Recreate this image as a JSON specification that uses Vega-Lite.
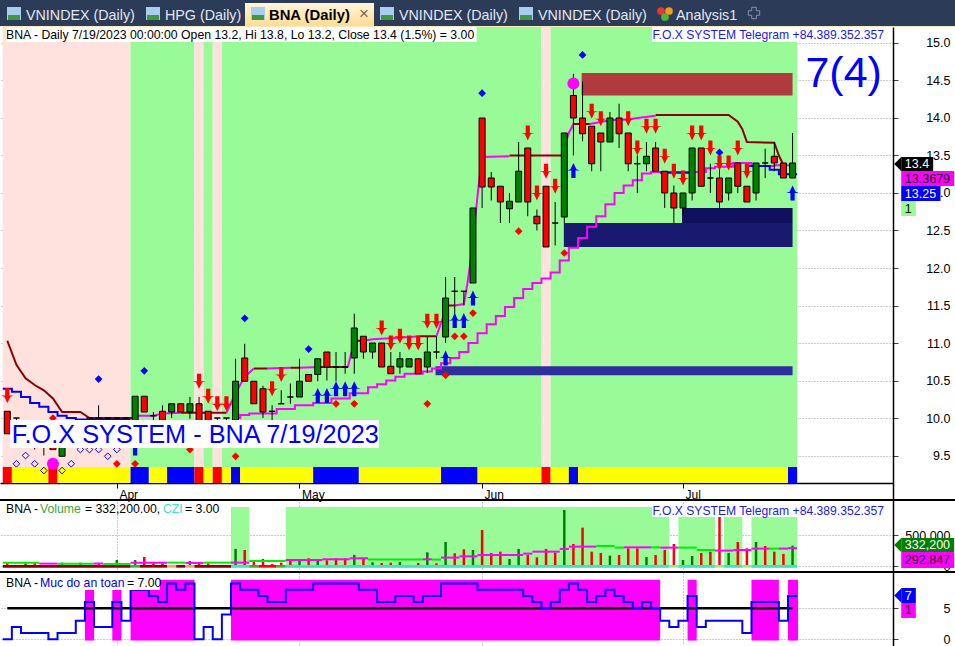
{"$schema":"https://vega.github.io/schema/vega-lite/v6.json","padding":{"left":-2,"top":0,"right":0,"bottom":0},"spacing":0,"bounds":"flush","background":"white","config":{"view":{"stroke":null},"text":{"font":"Liberation Sans"},"axis":{"labelFont":"Liberation Sans"}},"resolve":{"scale":{"color":"independent"}},
"datasets":{
"candles":[{"i":0,"o":10.09,"h":10.09,"l":9.79,"c":9.79,"dir":"down"},{"i":1,"o":10,"h":10,"l":9.6,"c":10,"dir":"flat"},{"i":2,"o":9.95,"h":9.95,"l":9.6,"c":9.95,"dir":"flat"},{"i":3,"o":9.95,"h":9.95,"l":9.58,"c":9.95,"dir":"flat"},{"i":4,"o":9.9,"h":9.95,"l":9.5,"c":9.9,"dir":"flat"},{"i":5,"o":9.9,"h":9.95,"l":9.58,"c":9.58,"dir":"down"},{"i":6,"o":9.49,"h":9.85,"l":9.49,"c":9.8,"dir":"up"},{"i":7,"o":9.9,"h":9.9,"l":9.6,"c":9.9,"dir":"flat"},{"i":8,"o":9.9,"h":9.9,"l":9.6,"c":9.9,"dir":"flat"},{"i":9,"o":10,"h":10,"l":9.7,"c":10,"dir":"flat"},{"i":10,"o":10,"h":10.17,"l":9.7,"c":10,"dir":"flat"},{"i":11,"o":10,"h":10,"l":9.8,"c":10,"dir":"flat"},{"i":12,"o":10,"h":10,"l":9.7,"c":10,"dir":"flat"},{"i":13,"o":10,"h":10,"l":9.9,"c":10,"dir":"flat"},{"i":14,"o":9.93,"h":10.29,"l":9.9,"c":10.29,"dir":"up"},{"i":15,"o":10.29,"h":10.29,"l":10.08,"c":10.08,"dir":"down"},{"i":16,"o":10.03,"h":10.08,"l":9.95,"c":10.03,"dir":"flat"},{"i":17,"o":10.09,"h":10.17,"l":9.95,"c":9.97,"dir":"down"},{"i":18,"o":10.08,"h":10.19,"l":10,"c":10.19,"dir":"up"},{"i":19,"o":10.19,"h":10.19,"l":10.08,"c":10.08,"dir":"down"},{"i":20,"o":10.08,"h":10.28,"l":9.99,"c":10.19,"dir":"up"},{"i":21,"o":10.19,"h":10.28,"l":9.9,"c":9.9,"dir":"down"},{"i":22,"o":10.09,"h":10.09,"l":9.9,"c":9.9,"dir":"down"},{"i":23,"o":10,"h":10,"l":9.9,"c":10,"dir":"flat"},{"i":24,"o":10,"h":10,"l":9.9,"c":10,"dir":"flat"},{"i":25,"o":9.97,"h":10.79,"l":9.97,"c":10.49,"dir":"up"},{"i":26,"o":10.8,"h":10.99,"l":10.49,"c":10.49,"dir":"down"},{"i":27,"o":10.49,"h":10.49,"l":10.19,"c":10.19,"dir":"down"},{"i":28,"o":10.39,"h":10.43,"l":10,"c":10.08,"dir":"down"},{"i":29,"o":10.09,"h":10.17,"l":9.97,"c":10.09,"dir":"flat"},{"i":30,"o":10.19,"h":10.37,"l":10.19,"c":10.19,"dir":"flat"},{"i":31,"o":10.28,"h":10.46,"l":10.19,"c":10.28,"dir":"flat"},{"i":32,"o":10.28,"h":10.79,"l":10.28,"c":10.49,"dir":"up"},{"i":33,"o":10.58,"h":10.58,"l":10.49,"c":10.49,"dir":"down"},{"i":34,"o":10.58,"h":10.79,"l":10.49,"c":10.79,"dir":"up"},{"i":35,"o":10.88,"h":10.88,"l":10.5,"c":10.68,"dir":"down"},{"i":36,"o":10.68,"h":10.88,"l":10.49,"c":10.68,"dir":"flat"},{"i":37,"o":10.68,"h":10.88,"l":10.59,"c":10.68,"dir":"flat"},{"i":38,"o":10.8,"h":11.39,"l":10.59,"c":11.2,"dir":"up"},{"i":39,"o":11.09,"h":11.09,"l":10.79,"c":10.88,"dir":"down"},{"i":40,"o":10.88,"h":11,"l":10.79,"c":11,"dir":"up"},{"i":41,"o":11,"h":11,"l":10.68,"c":10.68,"dir":"down"},{"i":42,"o":10.69,"h":10.88,"l":10.59,"c":10.59,"dir":"down"},{"i":43,"o":10.68,"h":10.88,"l":10.59,"c":10.79,"dir":"up"},{"i":44,"o":10.68,"h":10.79,"l":10.68,"c":10.79,"dir":"up"},{"i":45,"o":10.79,"h":10.79,"l":10.59,"c":10.59,"dir":"down"},{"i":46,"o":10.68,"h":11.08,"l":10.6,"c":10.88,"dir":"up"},{"i":47,"o":10.88,"h":11.09,"l":10.79,"c":10.88,"dir":"flat"},{"i":48,"o":11.08,"h":11.88,"l":11,"c":11.6,"dir":"up"},{"i":49,"o":11.69,"h":11.88,"l":11.2,"c":11.69,"dir":"flat"},{"i":50,"o":11.69,"h":11.69,"l":11.5,"c":11.69,"dir":"flat"},{"i":51,"o":11.8,"h":12.8,"l":11.8,"c":12.8,"dir":"up"},{"i":52,"o":14,"h":14,"l":12.8,"c":13.08,"dir":"down"},{"i":53,"o":13.2,"h":13.28,"l":12.9,"c":13.08,"dir":"down"},{"i":54,"o":13.09,"h":13.09,"l":12.6,"c":12.88,"dir":"down"},{"i":55,"o":12.79,"h":13,"l":12.6,"c":12.89,"dir":"up"},{"i":56,"o":12.88,"h":13.68,"l":12.88,"c":13.29,"dir":"up"},{"i":57,"o":13.6,"h":13.6,"l":12.69,"c":12.88,"dir":"down"},{"i":58,"o":12.69,"h":12.78,"l":12.5,"c":12.59,"dir":"down"},{"i":59,"o":13.09,"h":13.09,"l":12.28,"c":12.28,"dir":"down"},{"i":60,"o":12.6,"h":12.88,"l":12.3,"c":12.6,"dir":"flat"},{"i":61,"o":12.68,"h":13.8,"l":12.6,"c":13.8,"dir":"up"},{"i":62,"o":14.3,"h":14.59,"l":13.5,"c":14,"dir":"down"},{"i":63,"o":14,"h":14.49,"l":13.69,"c":13.79,"dir":"down"},{"i":64,"o":13.89,"h":13.89,"l":13.29,"c":13.39,"dir":"down"},{"i":65,"o":13.8,"h":13.8,"l":13.29,"c":13.68,"dir":"down"},{"i":66,"o":13.68,"h":14.08,"l":13.68,"c":14,"dir":"up"},{"i":67,"o":14,"h":14.19,"l":13.6,"c":13.79,"dir":"down"},{"i":68,"o":13.8,"h":13.8,"l":13.29,"c":13.39,"dir":"down"},{"i":69,"o":13.39,"h":13.5,"l":13,"c":13.39,"dir":"flat"},{"i":70,"o":13.39,"h":13.68,"l":13.29,"c":13.49,"dir":"up"},{"i":71,"o":13.6,"h":13.68,"l":13.29,"c":13.29,"dir":"down"},{"i":72,"o":13.29,"h":13.29,"l":12.8,"c":13,"dir":"down"},{"i":73,"o":13,"h":13.1,"l":12.6,"c":12.8,"dir":"down"},{"i":74,"o":12.8,"h":13,"l":12.7,"c":13,"dir":"up"},{"i":75,"o":13,"h":13.6,"l":12.9,"c":13.6,"dir":"up"},{"i":76,"o":13.6,"h":13.6,"l":13.09,"c":13.09,"dir":"down"},{"i":77,"o":13.2,"h":13.39,"l":13,"c":13.2,"dir":"flat"},{"i":78,"o":13.2,"h":13.39,"l":12.8,"c":12.88,"dir":"down"},{"i":79,"o":13,"h":13.2,"l":12.9,"c":13.2,"dir":"up"},{"i":80,"o":13.4,"h":13.4,"l":13,"c":13.09,"dir":"down"},{"i":81,"o":13.09,"h":13.09,"l":12.88,"c":12.88,"dir":"down"},{"i":82,"o":13,"h":13.4,"l":12.9,"c":13.4,"dir":"up"},{"i":83,"o":13.4,"h":13.59,"l":13.2,"c":13.4,"dir":"flat"},{"i":84,"o":13.49,"h":13.68,"l":13.29,"c":13.4,"dir":"down"},{"i":85,"o":13.4,"h":13.4,"l":13.2,"c":13.2,"dir":"down"},{"i":86,"o":13.2,"h":13.8,"l":13.2,"c":13.4,"dir":"up"}],
"bands":[{"i1":-0.5,"i2":13.5,"kind":"risk"},{"i1":13.5,"i2":20.5,"kind":"safe"},{"i1":20.5,"i2":21.5,"kind":"risk"},{"i1":21.5,"i2":22.5,"kind":"safe"},{"i1":22.5,"i2":23.5,"kind":"risk"},{"i1":23.5,"i2":58.5,"kind":"safe"},{"i1":58.5,"i2":59.5,"kind":"risk"},{"i1":59.5,"i2":86.5,"kind":"safe"}],
"status":[{"i1":-0.5,"i2":0.5,"kind":"sell"},{"i1":0.5,"i2":4.5,"kind":"hold"},{"i1":4.5,"i2":5.5,"kind":"sell"},{"i1":5.5,"i2":13.5,"kind":"hold"},{"i1":13.5,"i2":15.5,"kind":"buy"},{"i1":15.5,"i2":17.5,"kind":"hold"},{"i1":17.5,"i2":20.5,"kind":"buy"},{"i1":20.5,"i2":21.5,"kind":"sell"},{"i1":21.5,"i2":22.5,"kind":"hold"},{"i1":22.5,"i2":23.5,"kind":"sell"},{"i1":23.5,"i2":24.5,"kind":"hold"},{"i1":24.5,"i2":25.5,"kind":"buy"},{"i1":25.5,"i2":33.5,"kind":"hold"},{"i1":33.5,"i2":38.5,"kind":"buy"},{"i1":38.5,"i2":47.5,"kind":"hold"},{"i1":47.5,"i2":51.5,"kind":"buy"},{"i1":51.5,"i2":58.5,"kind":"hold"},{"i1":58.5,"i2":59.5,"kind":"sell"},{"i1":59.5,"i2":61.5,"kind":"hold"},{"i1":61.5,"i2":62.5,"kind":"buy"},{"i1":62.5,"i2":85.5,"kind":"hold"},{"i1":85.5,"i2":86.5,"kind":"buy"}],
"zones":[{"i1":62.9,"i2":86,"p1":14.6,"p2":14.3,"kind":"supply"},{"i1":60.95,"i2":86,"p1":12.6,"p2":12.28,"kind":"demand"},{"i1":73.9,"i2":86,"p1":12.8,"p2":12.6,"kind":"demand2"},{"i1":46.9,"i2":86,"p1":10.69,"p2":10.57,"kind":"demand3"}],
"upperBrown":[{"s":1,"i":0,"p":11.03},{"s":1,"i":1,"p":10.71},{"s":1,"i":2,"p":10.53},{"s":1,"i":3,"p":10.44},{"s":1,"i":4,"p":10.37},{"s":1,"i":5,"p":10.26},{"s":1,"i":6,"p":10.08},{"s":1,"i":8,"p":10.08},{"s":1,"i":9,"p":10},{"s":1,"i":14,"p":10},{"s":2,"i":19,"p":10.07},{"s":2,"i":24,"p":10.07},{"s":3,"i":27,"p":10.66},{"s":3,"i":28.5,"p":10.66},{"s":4,"i":31,"p":10.67},{"s":4,"i":32,"p":10.67},{"s":5,"i":34.3,"p":10.68},{"s":5,"i":37.3,"p":10.68},{"s":6,"i":38,"p":11.03},{"s":6,"i":39,"p":11.03},{"s":7,"i":45.2,"p":11.09},{"s":7,"i":47,"p":11.09},{"s":8,"i":48.3,"p":11.5},{"s":8,"i":49,"p":11.5},{"s":9,"i":55,"p":13.5},{"s":9,"i":60.7,"p":13.5},{"s":10,"i":62,"p":13.92},{"s":10,"i":63.8,"p":13.92},{"s":11,"i":71,"p":14.04},{"s":11,"i":79,"p":14.04},{"s":11,"i":80,"p":13.95},{"s":11,"i":80.5,"p":13.85},{"s":11,"i":81,"p":13.68},{"s":11,"i":84,"p":13.67},{"s":11,"i":84.5,"p":13.5},{"s":11,"i":84.9,"p":13.4}],
"upperMagenta":[{"s":1,"i":14,"p":10.03},{"s":1,"i":16,"p":10.03},{"s":1,"i":17,"p":10.06},{"s":1,"i":19,"p":10.07},{"s":2,"i":24,"p":10.07},{"s":2,"i":25,"p":10.33},{"s":2,"i":26,"p":10.55},{"s":2,"i":27,"p":10.66},{"s":3,"i":28.5,"p":10.66},{"s":3,"i":31,"p":10.67},{"s":4,"i":32,"p":10.67},{"s":4,"i":34.3,"p":10.68},{"s":5,"i":37.3,"p":10.68},{"s":5,"i":38,"p":11.03},{"s":6,"i":39,"p":11.03},{"s":6,"i":40,"p":11.05},{"s":6,"i":43,"p":11.07},{"s":6,"i":45.2,"p":11.09},{"s":7,"i":47,"p":11.09},{"s":7,"i":47.6,"p":11.3},{"s":7,"i":48.3,"p":11.5},{"s":8,"i":49,"p":11.5},{"s":8,"i":50,"p":11.52},{"s":8,"i":50.4,"p":11.8},{"s":8,"i":50.7,"p":12.06},{"s":8,"i":51.3,"p":12.73},{"s":8,"i":51.6,"p":13.08},{"s":8,"i":52,"p":13.48},{"s":8,"i":55,"p":13.49},{"s":9,"i":60.7,"p":13.5},{"s":9,"i":61.5,"p":13.8},{"s":9,"i":62,"p":13.92},{"s":10,"i":63.8,"p":13.92},{"s":10,"i":66,"p":13.97},{"s":10,"i":68,"p":13.98},{"s":10,"i":69,"p":14},{"s":10,"i":71,"p":14.03}],
"lower":[{"i":25,"p":10},{"i":26,"p":10.04},{"i":27,"p":10.06},{"i":29,"p":10.06},{"i":30,"p":10.12},{"i":31,"p":10.12},{"i":32,"p":10.17},{"i":33,"p":10.17},{"i":34,"p":10.2},{"i":35,"p":10.2},{"i":36,"p":10.26},{"i":37,"p":10.26},{"i":38,"p":10.33},{"i":39,"p":10.33},{"i":40,"p":10.41},{"i":41,"p":10.45},{"i":42,"p":10.5},{"i":43,"p":10.55},{"i":44,"p":10.59},{"i":45,"p":10.59},{"i":46,"p":10.62},{"i":47,"p":10.66},{"i":48,"p":10.73},{"i":49,"p":10.8},{"i":50,"p":10.88},{"i":51,"p":11},{"i":52,"p":11.13},{"i":53,"p":11.25},{"i":54,"p":11.36},{"i":55,"p":11.48},{"i":56,"p":11.6},{"i":57,"p":11.72},{"i":58,"p":11.8},{"i":59,"p":11.86},{"i":60,"p":11.94},{"i":61,"p":12.1},{"i":62,"p":12.27},{"i":63,"p":12.4},{"i":64,"p":12.55},{"i":65,"p":12.69},{"i":66,"p":12.85},{"i":67,"p":13},{"i":68,"p":13.1},{"i":69,"p":13.17},{"i":70,"p":13.26},{"i":71,"p":13.28},{"i":76,"p":13.28},{"i":77,"p":13.33},{"i":78,"p":13.35},{"i":79,"p":13.35},{"i":80,"p":13.4},{"i":81,"p":13.4},{"i":82,"p":13.36},{"i":86,"p":13.37}],
"blueLine":[{"s":1,"i":-0.5,"p":10.39},{"s":1,"i":0,"p":10.39},{"s":1,"i":1,"p":10.35},{"s":1,"i":2,"p":10.28},{"s":1,"i":3,"p":10.2},{"s":1,"i":4,"p":10.15},{"s":1,"i":5,"p":10.08},{"s":1,"i":6,"p":10.03},{"s":1,"i":7,"p":10},{"s":1,"i":8,"p":9.98},{"s":1,"i":13.5,"p":9.98},{"s":2,"i":71.5,"p":13.27},{"s":2,"i":75,"p":13.27},{"s":3,"i":81,"p":13.36},{"s":3,"i":83,"p":13.36},{"s":3,"i":84,"p":13.31},{"s":3,"i":85,"p":13.25},{"s":3,"i":86.5,"p":13.25}],
"diamondsBlue":[{"i":10,"p":10.52},{"i":15,"p":10.63},{"i":26,"p":11.33},{"i":33,"p":10.92},{"i":52,"p":14.33},{"i":63,"p":14.84},{"i":78,"p":13.54}],
"diamondsRed":[{"i":5,"p":10},{"i":12,"p":9.39},{"i":14,"p":9.39},{"i":20,"p":9.58},{"i":25,"p":9.49},{"i":36,"p":10.19},{"i":38,"p":10.19},{"i":46,"p":10.19},{"i":48,"p":10.57},{"i":49,"p":11.09},{"i":50,"p":11.09},{"i":51,"p":11.4},{"i":61,"p":12.2},{"i":56,"p":12.49}],
"diamondsHollow":[{"i":1,"p":9.39},{"i":2,"p":9.5},{"i":3,"p":9.39},{"i":4,"p":9.3},{"i":6,"p":9.3},{"i":7,"p":9.39},{"i":8,"p":9.58},{"i":9,"p":9.58},{"i":10,"p":9.58},{"i":11,"p":9.49},{"i":12,"p":9.58}],
"dots":[{"i":5,"p":9.39},{"i":62,"p":14.46}],
"arrowsDown":[{"i":0,"p":10.3},{"i":21,"p":10.49},{"i":22,"p":10.29},{"i":23,"p":10.19},{"i":24,"p":10.19},{"i":29,"p":10.39},{"i":30,"p":10.58},{"i":41,"p":11.2},{"i":42,"p":11},{"i":43,"p":11.09},{"i":44,"p":11},{"i":45,"p":11},{"i":46,"p":11.29},{"i":47,"p":11.29},{"i":57,"p":13.8},{"i":58,"p":13},{"i":59,"p":13.29},{"i":60,"p":13.09},{"i":64,"p":14.09},{"i":65,"p":13.99},{"i":68,"p":13.99},{"i":69,"p":13.6},{"i":70,"p":13.89},{"i":71,"p":13.89},{"i":72,"p":13.49},{"i":73,"p":13.29},{"i":74,"p":13.2},{"i":75,"p":13.8},{"i":76,"p":13.8},{"i":77,"p":13.6},{"i":78,"p":13.4},{"i":79,"p":13.4},{"i":80,"p":13.6},{"i":81,"p":13.29}],
"arrowsUp":[{"i":14,"p":9.6},{"i":34,"p":10.3},{"i":35,"p":10.3},{"i":36,"p":10.39},{"i":37,"p":10.39},{"i":38,"p":10.39},{"i":48,"p":10.8},{"i":49,"p":11.3},{"i":50,"p":11.3},{"i":51,"p":11.6},{"i":62,"p":13.3},{"i":86,"p":13}],
"whiteBoxes":[{"i1":-0.14,"i2":51.4,"p1":15.213,"p2":15.013},{"i1":70.6,"i2":95.9,"p1":15.213,"p2":15.013},{"i1":0.3,"i2":40.7,"p1":9.973,"p2":9.6}],
"mainTags":[{"i1":97.9,"i2":101.4,"p1":13.48,"p2":13.293,"pm":13.387,"label":"13.4","kind":"close","tip":1},{"i1":97.9,"i2":103.7,"p1":13.293,"p2":13.093,"pm":13.193,"label":"13.3679","kind":"ma","tip":0},{"i1":97.9,"i2":102.2,"p1":13.093,"p2":12.893,"pm":12.993,"label":"13.25","kind":"stop","tip":0},{"i1":97.9,"i2":99.5,"p1":12.893,"p2":12.693,"pm":12.793,"label":"1","kind":"state","tip":0}],
"volume":[{"i":0,"v":48000,"dir":"down"},{"i":2,"v":48000,"dir":"up"},{"i":3,"v":59000,"dir":"down"},{"i":6,"v":59000,"dir":"up"},{"i":8,"v":59000,"dir":"up"},{"i":10,"v":54000,"dir":"down"},{"i":12,"v":102000,"dir":"up"},{"i":14,"v":102000,"dir":"up"},{"i":15,"v":150000,"dir":"down"},{"i":16,"v":48000,"dir":"down"},{"i":17,"v":48000,"dir":"down"},{"i":20,"v":86000,"dir":"up"},{"i":21,"v":65000,"dir":"down"},{"i":22,"v":48000,"dir":"down"},{"i":25,"v":280000,"dir":"up"},{"i":26,"v":263000,"dir":"down"},{"i":27,"v":91000,"dir":"down"},{"i":28,"v":118000,"dir":"down"},{"i":29,"v":38000,"dir":"down"},{"i":30,"v":59000,"dir":"down"},{"i":31,"v":86000,"dir":"down"},{"i":32,"v":118000,"dir":"up"},{"i":33,"v":129000,"dir":"down"},{"i":34,"v":97000,"dir":"up"},{"i":35,"v":97000,"dir":"down"},{"i":36,"v":129000,"dir":"down"},{"i":37,"v":129000,"dir":"down"},{"i":38,"v":183000,"dir":"up"},{"i":39,"v":129000,"dir":"down"},{"i":40,"v":65000,"dir":"up"},{"i":41,"v":54000,"dir":"down"},{"i":42,"v":59000,"dir":"down"},{"i":43,"v":70000,"dir":"up"},{"i":44,"v":22000,"dir":"up"},{"i":45,"v":54000,"dir":"down"},{"i":46,"v":225000,"dir":"up"},{"i":47,"v":48000,"dir":"down"},{"i":48,"v":392000,"dir":"up"},{"i":49,"v":210000,"dir":"down"},{"i":50,"v":274000,"dir":"down"},{"i":51,"v":263000,"dir":"up"},{"i":52,"v":586000,"dir":"down"},{"i":53,"v":215000,"dir":"down"},{"i":54,"v":236000,"dir":"down"},{"i":55,"v":118000,"dir":"up"},{"i":56,"v":280000,"dir":"up"},{"i":57,"v":183000,"dir":"down"},{"i":58,"v":145000,"dir":"down"},{"i":59,"v":280000,"dir":"down"},{"i":60,"v":220000,"dir":"down"},{"i":61,"v":908000,"dir":"up"},{"i":62,"v":360000,"dir":"down"},{"i":63,"v":624000,"dir":"down"},{"i":64,"v":236000,"dir":"down"},{"i":65,"v":215000,"dir":"down"},{"i":66,"v":172000,"dir":"up"},{"i":67,"v":183000,"dir":"down"},{"i":68,"v":290000,"dir":"down"},{"i":69,"v":290000,"dir":"down"},{"i":70,"v":150000,"dir":"up"},{"i":71,"v":183000,"dir":"down"},{"i":72,"v":263000,"dir":"down"},{"i":73,"v":360000,"dir":"down"},{"i":74,"v":102000,"dir":"up"},{"i":75,"v":167000,"dir":"up"},{"i":76,"v":215000,"dir":"down"},{"i":77,"v":236000,"dir":"down"},{"i":78,"v":900000,"dir":"down"},{"i":79,"v":215000,"dir":"up"},{"i":80,"v":392000,"dir":"down"},{"i":81,"v":290000,"dir":"down"},{"i":82,"v":392000,"dir":"up"},{"i":83,"v":328000,"dir":"down"},{"i":84,"v":236000,"dir":"down"},{"i":85,"v":200000,"dir":"down"},{"i":86,"v":332200,"dir":"up"}],
"volMA":[{"i1":-0.5,"i2":3.5,"ma":59000,"tone":"g"},{"i1":3.5,"i2":5.5,"ma":43000,"tone":"m"},{"i1":5.5,"i2":9.5,"ma":41000,"tone":"g"},{"i1":9.5,"i2":10.5,"ma":45000,"tone":"m"},{"i1":10.5,"i2":13.5,"ma":38000,"tone":"g"},{"i1":13.5,"i2":17.5,"ma":59000,"tone":"m"},{"i1":17.5,"i2":19.5,"ma":59000,"tone":"g"},{"i1":19.5,"i2":21.5,"ma":54000,"tone":"m"},{"i1":21.5,"i2":24.5,"ma":59000,"tone":"g"},{"i1":24.5,"i2":26.5,"ma":59000,"tone":"m"},{"i1":26.5,"i2":30.5,"ma":86000,"tone":"g"},{"i1":30.5,"i2":34.5,"ma":102000,"tone":"m"},{"i1":34.5,"i2":37.5,"ma":113000,"tone":"m"},{"i1":37.5,"i2":39.5,"ma":129000,"tone":"m"},{"i1":39.5,"i2":45.5,"ma":108000,"tone":"g"},{"i1":45.5,"i2":46.5,"ma":113000,"tone":"m"},{"i1":46.5,"i2":47.5,"ma":108000,"tone":"g"},{"i1":47.5,"i2":49.5,"ma":140000,"tone":"m"},{"i1":49.5,"i2":51.5,"ma":161000,"tone":"m"},{"i1":51.5,"i2":56.5,"ma":183000,"tone":"m"},{"i1":56.5,"i2":57.5,"ma":204000,"tone":"m"},{"i1":57.5,"i2":60.5,"ma":236000,"tone":"m"},{"i1":60.5,"i2":61.5,"ma":280000,"tone":"m"},{"i1":61.5,"i2":64.5,"ma":317000,"tone":"m"},{"i1":64.5,"i2":66.5,"ma":328000,"tone":"g"},{"i1":66.5,"i2":67.5,"ma":301000,"tone":"g"},{"i1":67.5,"i2":70.5,"ma":306000,"tone":"m"},{"i1":70.5,"i2":71.5,"ma":306000,"tone":"g"},{"i1":71.5,"i2":73.5,"ma":301000,"tone":"m"},{"i1":73.5,"i2":75.5,"ma":301000,"tone":"g"},{"i1":75.5,"i2":77.5,"ma":263000,"tone":"g"},{"i1":77.5,"i2":79.5,"ma":253000,"tone":"m"},{"i1":79.5,"i2":81.5,"ma":263000,"tone":"m"},{"i1":81.5,"i2":83.5,"ma":285000,"tone":"m"},{"i1":83.5,"i2":84.5,"ma":285000,"tone":"g"},{"i1":84.5,"i2":85.5,"ma":285000,"tone":"m"},{"i1":85.5,"i2":86.5,"ma":293000,"tone":"m"}],
"volBands":[{"i1":24.5,"i2":26.5},{"i1":30.5,"i2":72.5},{"i1":73.5,"i2":77.5},{"i1":78.5,"i2":80.5},{"i1":81.5,"i2":86.5}],
"volStrip":[{"i1":-0.5,"i2":13.5,"kind":"a"},{"i1":13.5,"i2":14.5,"kind":"b"},{"i1":14.5,"i2":17.5,"kind":"a"},{"i1":17.5,"i2":18.5,"kind":"c"},{"i1":18.5,"i2":19.5,"kind":"a"},{"i1":19.5,"i2":20.5,"kind":"c"},{"i1":20.5,"i2":24.5,"kind":"a"},{"i1":24.5,"i2":26.5,"kind":"d"},{"i1":26.5,"i2":27.5,"kind":"b"},{"i1":27.5,"i2":29.5,"kind":"e"},{"i1":29.5,"i2":30.5,"kind":"b"},{"i1":30.5,"i2":72.5,"kind":"d"},{"i1":72.5,"i2":73.5,"kind":"f"},{"i1":73.5,"i2":77.5,"kind":"d"},{"i1":77.5,"i2":78.5,"kind":"f"},{"i1":78.5,"i2":80.5,"kind":"d"},{"i1":80.5,"i2":81.5,"kind":"f"},{"i1":81.5,"i2":86.5,"kind":"d"}],
"volTags":[{"i1":97.9,"i2":103.7,"p1":456000,"p2":231000,"pm":344000,"label":"332,200","kind":"vol","tip":1},{"i1":97.9,"i2":103.7,"p1":231000,"p2":-27000,"pm":102000,"label":"292,847","kind":"ma","tip":0}],
"safety":[{"i":-0.5,"v":0},{"i":0,"v":0},{"i":1,"v":2},{"i":2,"v":1},{"i":3,"v":1},{"i":4,"v":1},{"i":5,"v":0},{"i":6,"v":1},{"i":7,"v":1},{"i":8,"v":3},{"i":9,"v":6},{"i":10,"v":2},{"i":11,"v":2},{"i":12,"v":6},{"i":13,"v":3},{"i":14,"v":8},{"i":15,"v":8},{"i":16,"v":7},{"i":17,"v":6},{"i":18,"v":9},{"i":19,"v":8},{"i":20,"v":9},{"i":21,"v":0},{"i":22,"v":2},{"i":23,"v":0},{"i":24,"v":4},{"i":25,"v":9},{"i":26,"v":8},{"i":27,"v":8},{"i":28,"v":7},{"i":29,"v":6},{"i":30,"v":6},{"i":31,"v":8},{"i":32,"v":8},{"i":33,"v":8},{"i":34,"v":9},{"i":35,"v":9},{"i":36,"v":9},{"i":37,"v":9},{"i":38,"v":9},{"i":39,"v":8},{"i":40,"v":8},{"i":41,"v":6},{"i":42,"v":6},{"i":43,"v":7},{"i":44,"v":7},{"i":45,"v":6},{"i":46,"v":7},{"i":47,"v":7},{"i":48,"v":9},{"i":49,"v":9},{"i":50,"v":9},{"i":51,"v":9},{"i":52,"v":8},{"i":53,"v":8},{"i":54,"v":8},{"i":55,"v":8},{"i":56,"v":8},{"i":57,"v":7},{"i":58,"v":6},{"i":59,"v":5},{"i":60,"v":6},{"i":61,"v":8},{"i":62,"v":9},{"i":63,"v":8},{"i":64,"v":6},{"i":65,"v":7},{"i":66,"v":8},{"i":67,"v":7},{"i":68,"v":6},{"i":69,"v":5},{"i":70,"v":6},{"i":71,"v":5},{"i":72,"v":3},{"i":73,"v":2},{"i":74,"v":3},{"i":75,"v":7},{"i":76,"v":2},{"i":77,"v":3},{"i":78,"v":3},{"i":79,"v":3},{"i":80,"v":3},{"i":81,"v":1},{"i":82,"v":6},{"i":83,"v":6},{"i":84,"v":6},{"i":85,"v":3},{"i":86,"v":7},{"i":86.5,"v":7}],
"safetyBands":[{"i1":8.5,"i2":9.5,"top":7.96},{"i1":11.5,"i2":12.5,"top":7.96},{"i1":13.5,"i2":20.5,"top":9.6},{"i1":24.5,"i2":71.5,"top":9.6},{"i1":74.5,"i2":75.5,"top":9.6},{"i1":81.5,"i2":84.5,"top":9.6},{"i1":85.5,"i2":86.6,"top":9.6}],
"safetyTags":[{"i1":97.9,"i2":99.5,"p1":8.27,"p2":5.85,"pm":7.06,"label":"7","kind":"now","tip":1},{"i1":97.9,"i2":99.5,"p1":5.85,"p2":3.44,"pm":4.65,"label":"1","kind":"ma","tip":0}],
"tabRects":[{"x1":0,"x2":957,"y1":26,"y2":27,"kind":"line"},{"x1":7,"x2":21,"y1":7,"y2":20,"kind":"icon"},{"x1":146,"x2":160,"y1":7,"y2":20,"kind":"icon"},{"x1":251,"x2":265,"y1":7,"y2":20,"kind":"icon"},{"x1":380,"x2":394,"y1":7,"y2":20,"kind":"icon"},{"x1":519,"x2":533,"y1":7,"y2":20,"kind":"icon"},{"x1":8,"x2":20,"y1":15,"y2":20,"kind":"iconGreen"},{"x1":147,"x2":159,"y1":15,"y2":20,"kind":"iconGreen"},{"x1":252,"x2":264,"y1":15,"y2":20,"kind":"iconGreen"},{"x1":381,"x2":393,"y1":15,"y2":20,"kind":"iconGreen"},{"x1":520,"x2":532,"y1":15,"y2":20,"kind":"iconGreen"}],
"tabLabels":[{"x":26,"t":"VNINDEX (Daily)"},{"x":165,"t":"HPG (Daily)"},{"x":399,"t":"VNINDEX (Daily)"},{"x":538,"t":"VNINDEX (Daily)"},{"x":676,"t":"Analysis1"}]
},
"vconcat":[
{"width":957,"height":27,"view":{"fill":"#2c3b58","stroke":null},"layer":[
{"data":{"values":[{"x1":245,"x2":374,"y1":3,"y2":26}]},"mark":{"type":"rect","color":{"gradient":"linear","x1":0,"y1":0,"x2":0,"y2":1,"stops":[{"offset":0,"color":"#fff6dc"},{"offset":1,"color":"#fddc92"}]}},"encoding":{"x":{"field":"x1","type":"quantitative","axis":null,"scale":{"domain":[0,957],"nice":false,"zero":false}},"x2":{"field":"x2"},"y":{"field":"y1","type":"quantitative","axis":null,"scale":{"domain":[27,0],"nice":false,"zero":false}},"y2":{"field":"y2"}}},
{"data":{"name":"tabRects"},"mark":"rect","encoding":{"x":{"field":"x1","type":"quantitative","axis":null},"x2":{"field":"x2"},"y":{"field":"y1","type":"quantitative","axis":null},"y2":{"field":"y2"},"color":{"field":"kind","type":"nominal","legend":null,"scale":{"domain":["line","icon","iconGreen"],"range":["#fde9b8","#a9cdee","#3f9a3f"]}}}},
{"data":{"name":"tabLabels"},"mark":{"type":"text","align":"left","baseline":"alphabetic","fontSize":14.3,"color":"#e3e8f0"},"encoding":{"x":{"field":"x","type":"quantitative","axis":null},"y":{"datum":19.5,"type":"quantitative","axis":null},"text":{"field":"t"}}},
{"data":{"values":[{"x":269,"t":"BNA (Daily)"}]},"mark":{"type":"text","align":"left","baseline":"alphabetic","fontSize":14.8,"fontWeight":"bold","color":"#000000"},"encoding":{"x":{"field":"x","type":"quantitative","axis":null},"y":{"datum":19.5,"type":"quantitative","axis":null},"text":{"field":"t"}}},
{"data":{"values":[{"x":364,"t":"×"}]},"mark":{"type":"text","align":"center","baseline":"alphabetic","fontSize":17,"color":"#7a6a50"},"encoding":{"x":{"field":"x","type":"quantitative","axis":null},"y":{"datum":19,"type":"quantitative","axis":null},"text":{"field":"t"}}},
{"data":{"values":[{"x":661,"y":11,"c":"r"},{"x":669,"y":11,"c":"o"},{"x":665,"y":17,"c":"g"}]},"mark":{"type":"point","filled":true,"opacity":1,"size":60,"shape":"circle"},"encoding":{"x":{"field":"x","type":"quantitative","axis":null},"y":{"field":"y","type":"quantitative","axis":null},"color":{"field":"c","type":"nominal","legend":null,"scale":{"domain":["r","o","g"],"range":["#e8343a","#f39a1c","#4db82f"]}}}},
{"data":{"values":[{"x":754,"y":13}]},"mark":{"type":"point","shape":"cross","filled":false,"size":130,"opacity":1,"color":"#8a93a5","strokeWidth":1},"encoding":{"x":{"field":"x","type":"quantitative","axis":null},"y":{"field":"y","type":"quantitative","axis":null}}}
],"resolve":{"scale":{"color":"independent"}}},
{"width":893,"height":473,"layer":[
{"data":{"name":"bands"},"mark":"rect","encoding":{"x":{"field":"i1","type":"quantitative","scale":{"domain":[-0.8,97],"padding":0,"nice":false,"zero":false},"axis":{"title":null,"orient":"bottom","offset":-17,"values":[12,32,52,74],"labelExpr":"datum.value==12?'Apr':datum.value==32?'May':datum.value==52?'Jun':'Jul'","labelAlign":"left","labelBaseline":"top","labelPadding":1,"labelOffset":2,"labelFontSize":12,"labelColor":"#000000","tickColor":"#000000","tickSize":5,"domainColor":"#000000","domainWidth":1.5,"grid":false,"labelFlush":false,"labelOverlap":false,"labelBound":false}},"x2":{"field":"i2"},"y":{"datum":15.213,"type":"quantitative","scale":{"domain":[8.907,15.213],"nice":false,"zero":false},"axis":{"title":null,"orient":"right","values":[9.5,10,10.5,11,11.5,12,12.5,13,13.5,14,14.5,15],"format":".1f","labelAlign":"right","labelPadding":52,"labelFontSize":12.5,"labelColor":"#000000","tickSize":5,"tickColor":"#444444","domainColor":"#000000","domainWidth":1.5,"grid":true,"gridColor":"#999999","gridDash":[1,2],"labelOverlap":false,"labelBound":false}},"y2":{"datum":9.133},"color":{"field":"kind","type":"nominal","legend":null,"scale":{"domain":["risk","safe"],"range":["#ffe1de","#98fb98"]}}}},
{"data":{"name":"status"},"mark":"rect","encoding":{"x":{"field":"i1","type":"quantitative","axis":null},"x2":{"field":"i2"},"y":{"datum":9.347,"type":"quantitative","axis":null},"y2":{"datum":9.133},"color":{"field":"kind","type":"nominal","legend":null,"scale":{"domain":["sell","hold","buy"],"range":["#ff0000","#ffff00","#0000ff"]}}}},
{"data":{"name":"zones"},"mark":"rect","encoding":{"x":{"field":"i1","type":"quantitative","axis":null},"x2":{"field":"i2"},"y":{"field":"p1","type":"quantitative","axis":null},"y2":{"field":"p2"},"color":{"field":"kind","type":"nominal","legend":null,"scale":{"domain":["supply","demand","demand2","demand3"],"range":["#b03a3e","#191970","#10105f","#2e2e9e"]}}}},
{"data":{"name":"upperBrown"},"mark":{"type":"line","color":"#8b0000","strokeWidth":2},"encoding":{"x":{"field":"i","type":"quantitative","axis":null},"y":{"field":"p","type":"quantitative","axis":null},"detail":{"field":"s"}}},
{"data":{"name":"upperMagenta"},"mark":{"type":"line","color":"#ff00ff","strokeWidth":2},"encoding":{"x":{"field":"i","type":"quantitative","axis":null},"y":{"field":"p","type":"quantitative","axis":null},"detail":{"field":"s"}}},
{"data":{"name":"lower"},"mark":{"type":"line","color":"#ff00ff","strokeWidth":2,"interpolate":"step"},"encoding":{"x":{"field":"i","type":"quantitative","axis":null},"y":{"field":"p","type":"quantitative","axis":null}}},
{"data":{"name":"blueLine"},"mark":{"type":"line","color":"#0000ff","strokeWidth":2,"interpolate":"step"},"encoding":{"x":{"field":"i","type":"quantitative","axis":null},"y":{"field":"p","type":"quantitative","axis":null},"detail":{"field":"s"}}},
{"data":{"name":"candles"},"mark":{"type":"rule","color":"#000000","strokeWidth":1},"encoding":{"x":{"field":"i","type":"quantitative","axis":null},"y":{"field":"l","type":"quantitative","axis":null},"y2":{"field":"h"}}},
{"data":{"name":"candles"},"mark":{"type":"bar","size":6,"stroke":"#000000","strokeWidth":1},"encoding":{"x":{"field":"i","type":"quantitative","axis":null},"y":{"field":"o","type":"quantitative","axis":null},"y2":{"field":"c"},"color":{"condition":{"test":"datum.dir=='up'","value":"#008000"},"value":"#ff0000"}}},
{"data":{"name":"diamondsBlue"},"mark":{"type":"point","shape":"diamond","filled":true,"opacity":1,"size":60,"color":"#0000ff"},"encoding":{"x":{"field":"i","type":"quantitative","axis":null},"y":{"field":"p","type":"quantitative","axis":null}}},
{"data":{"name":"diamondsRed"},"mark":{"type":"point","shape":"diamond","filled":true,"opacity":1,"size":60,"color":"#ff0000"},"encoding":{"x":{"field":"i","type":"quantitative","axis":null},"y":{"field":"p","type":"quantitative","axis":null}}},
{"data":{"name":"diamondsHollow"},"mark":{"type":"point","shape":"diamond","filled":false,"opacity":1,"size":45,"color":"#0000ff","strokeWidth":1},"encoding":{"x":{"field":"i","type":"quantitative","axis":null},"y":{"field":"p","type":"quantitative","axis":null}}},
{"data":{"name":"dots"},"mark":{"type":"point","shape":"circle","filled":true,"opacity":1,"size":144,"color":"#ff00ff"},"encoding":{"x":{"field":"i","type":"quantitative","axis":null},"y":{"field":"p","type":"quantitative","axis":null}}},
{"data":{"name":"arrowsDown"},"mark":{"type":"point","filled":true,"opacity":1,"size":225,"color":"#ff0000","shape":"M-0.28 -1 L0.28 -1 L0.28 0 L0.85 0 L0.4 0.15 L0 1 L-0.4 0.15 L-0.85 0 L-0.28 0 Z"},"encoding":{"x":{"field":"i","type":"quantitative","axis":null},"y":{"field":"p","type":"quantitative","axis":null}}},
{"data":{"name":"arrowsUp"},"mark":{"type":"point","filled":true,"opacity":1,"size":225,"color":"#0000ff","shape":"M-0.28 1 L0.28 1 L0.28 0 L0.85 0 L0.4 -0.15 L0 -1 L-0.4 -0.15 L-0.85 0 L-0.28 0 Z"},"encoding":{"x":{"field":"i","type":"quantitative","axis":null},"y":{"field":"p","type":"quantitative","axis":null}}},
{"data":{"name":"whiteBoxes"},"mark":{"type":"rect","color":"#ffffff"},"encoding":{"x":{"field":"i1","type":"quantitative","axis":null},"x2":{"field":"i2"},"y":{"field":"p1","type":"quantitative","axis":null},"y2":{"field":"p2"}}},
{"data":{"values":[{"i":-0.14,"p":15.053,"t":"BNA - Daily 7/19/2023 00:00:00 Open 13.2, Hi 13.8, Lo 13.2, Close 13.4 (1.5%)   = 3.00"}]},"mark":{"type":"text","align":"left","baseline":"alphabetic","fontSize":12.25,"color":"#000000"},"encoding":{"x":{"field":"i","type":"quantitative","axis":null},"y":{"field":"p","type":"quantitative","axis":null},"text":{"field":"t"}}},
{"data":{"values":[{"i":70.66,"p":15.053,"t":"F.O.X SYSTEM Telegram +84.389.352.357"}]},"mark":{"type":"text","align":"left","baseline":"alphabetic","fontSize":12.15,"color":"#1a1aee"},"encoding":{"x":{"field":"i","type":"quantitative","axis":null},"y":{"field":"p","type":"quantitative","axis":null},"text":{"field":"t"}}},
{"data":{"values":[{"i":0.5,"p":9.67,"t":"F.O.X SYSTEM - BNA 7/19/2023"}]},"mark":{"type":"text","align":"left","baseline":"alphabetic","fontSize":25.3,"color":"#0000ff"},"encoding":{"x":{"field":"i","type":"quantitative","axis":null},"y":{"field":"p","type":"quantitative","axis":null},"text":{"field":"t"}}},
{"data":{"values":[{"i":91.6,"p":14.417,"t":"7(4)"}]},"mark":{"type":"text","align":"center","baseline":"alphabetic","fontSize":43,"color":"#0000ff"},"encoding":{"x":{"field":"i","type":"quantitative","axis":null},"y":{"field":"p","type":"quantitative","axis":null},"text":{"field":"t"}}},
{"data":{"name":"mainTags"},"mark":"rect","encoding":{"x":{"field":"i1","type":"quantitative","axis":null},"x2":{"field":"i2"},"y":{"field":"p1","type":"quantitative","axis":null},"y2":{"field":"p2"},"color":{"field":"kind","type":"nominal","legend":null,"scale":{"domain":["close","ma","stop","state"],"range":["#000000","#ff00ff","#0000ff","#98fb98"]}}}},
{"data":{"name":"mainTags"},"transform":[{"filter":"datum.tip==1"}],"mark":{"type":"point","filled":true,"opacity":1,"size":196,"color":"#000000","shape":"M0 -1 L-1 0 L0 1 Z"},"encoding":{"x":{"field":"i1","type":"quantitative","axis":null},"y":{"field":"pm","type":"quantitative","axis":null}}},
{"data":{"name":"mainTags"},"mark":{"type":"text","align":"left","baseline":"middle","fontSize":12.5},"encoding":{"x":{"datum":98.3,"type":"quantitative","axis":null},"y":{"field":"pm","type":"quantitative","axis":null},"text":{"field":"label"},"color":{"condition":{"test":"datum.kind=='close'||datum.kind=='stop'","value":"#ffffff"},"value":"#111111"}}}
],"resolve":{"scale":{"color":"independent"},"axis":{"x":"independent","y":"independent"}}},
{"width":893,"height":72,"layer":[
{"data":{"name":"volBands"},"mark":{"type":"rect","color":"#98fb98"},"encoding":{"x":{"field":"i1","type":"quantitative","scale":{"domain":[-0.8,97],"nice":false,"zero":false},"axis":{"title":null,"orient":"top","values":[12,32,52,74],"labels":false,"ticks":false,"domain":false,"grid":true,"gridColor":"#999999","gridDash":[1,2]}},"x2":{"field":"i2"},"y":{"datum":956000,"type":"quantitative","scale":{"domain":[-92000,1069000],"nice":false,"zero":false},"axis":{"title":null,"orient":"right","values":[0,500000],"labelExpr":"datum.value==0?'0':'500,000'","labelAlign":"right","labelPadding":52,"labelFontSize":12.5,"labelColor":"#000000","tickSize":5,"tickColor":"#444444","domainColor":"#000000","domainWidth":1.5,"grid":true,"gridColor":"#999999","gridDash":[1,2],"labelOverlap":false,"labelBound":false}},"y2":{"datum":-22000}}},
{"data":{"name":"volume"},"mark":{"type":"rule","strokeWidth":2.5},"encoding":{"x":{"field":"i","type":"quantitative","axis":null},"y":{"field":"v","type":"quantitative","axis":null},"y2":{"datum":0},"color":{"condition":{"test":"datum.dir=='up'","value":"#008000"},"value":"#ff0000"}}},
{"data":{"name":"volMA"},"mark":{"type":"rule","strokeWidth":2},"encoding":{"x":{"field":"i1","type":"quantitative","axis":null},"x2":{"field":"i2"},"y":{"field":"ma","type":"quantitative","axis":null},"color":{"condition":{"test":"datum.tone=='g'","value":"#00ee00"},"value":"#ff00ff"}}},
{"data":{"name":"volStrip"},"mark":"rect","encoding":{"x":{"field":"i1","type":"quantitative","axis":null},"x2":{"field":"i2"},"y":{"datum":21000,"type":"quantitative","axis":null},"y2":{"datum":-22000},"color":{"field":"kind","type":"nominal","legend":null,"scale":{"domain":["a","b","c","d","e","f"],"range":["#8b0000","#32b432","#f4a460","#40e0d0","#ff0000","#90ee90"]}}}},
{"data":{"values":[{"i1":70.6,"i2":95.9,"p1":1005000,"p2":795000}]},"mark":{"type":"rect","color":"#ffffff"},"encoding":{"x":{"field":"i1","type":"quantitative","axis":null},"x2":{"field":"i2"},"y":{"field":"p1","type":"quantitative","axis":null},"y2":{"field":"p2"}}},
{"data":{"values":[{"i":70.66,"v":835000,"t":"F.O.X SYSTEM Telegram +84.389.352.357"}]},"mark":{"type":"text","align":"left","baseline":"alphabetic","fontSize":12.15,"color":"#1a1aee"},"encoding":{"x":{"field":"i","type":"quantitative","axis":null},"y":{"field":"v","type":"quantitative","axis":null},"text":{"field":"t"}}},
{"data":{"values":[{"i":-0.14,"v":855000,"t":"BNA - ","c":"k"},{"i":3.58,"v":855000,"t":"Volume","c":"g"},{"i":8.5,"v":855000,"t":"= 332,200.00,","c":"k"},{"i":17.05,"v":855000,"t":"CZI","c":"t"},{"i":19.46,"v":855000,"t":"= 3.00","c":"k"}]},"mark":{"type":"text","align":"left","baseline":"alphabetic","fontSize":12.25},"encoding":{"x":{"field":"i","type":"quantitative","axis":null},"y":{"field":"v","type":"quantitative","axis":null},"text":{"field":"t"},"color":{"field":"c","type":"nominal","legend":null,"scale":{"domain":["k","g","t"],"range":["#000000","#3aa53a","#40e0d0"]}}}},
{"data":{"values":[{"a":-0.8,"b":103.8,"v":1069000}]},"mark":{"type":"rule","color":"#000000","strokeWidth":2},"encoding":{"x":{"field":"a","type":"quantitative","axis":null},"x2":{"field":"b"},"y":{"field":"v","type":"quantitative","axis":null}}},
{"data":{"name":"volTags"},"mark":"rect","encoding":{"x":{"field":"i1","type":"quantitative","axis":null},"x2":{"field":"i2"},"y":{"field":"p1","type":"quantitative","axis":null},"y2":{"field":"p2"},"color":{"field":"kind","type":"nominal","legend":null,"scale":{"domain":["vol","ma"],"range":["#008000","#ff00ff"]}}}},
{"data":{"name":"volTags"},"transform":[{"filter":"datum.tip==1"}],"mark":{"type":"point","filled":true,"opacity":1,"size":196,"color":"#008000","shape":"M0 -1 L-1 0 L0 1 Z"},"encoding":{"x":{"field":"i1","type":"quantitative","axis":null},"y":{"field":"pm","type":"quantitative","axis":null}}},
{"data":{"name":"volTags"},"mark":{"type":"text","align":"left","baseline":"middle","fontSize":12.5},"encoding":{"x":{"datum":98.3,"type":"quantitative","axis":null},"y":{"field":"pm","type":"quantitative","axis":null},"text":{"field":"label"},"color":{"condition":{"test":"datum.kind=='vol'","value":"#ffffff"},"value":"#111111"}}}
],"resolve":{"scale":{"color":"independent"},"axis":{"x":"independent","y":"independent"}}},
{"width":893,"height":74,"layer":[
{"data":{"name":"safetyBands"},"mark":{"type":"rect","color":"#ff00ff"},"encoding":{"x":{"field":"i1","type":"quantitative","scale":{"domain":[-0.8,97],"nice":false,"zero":false},"axis":{"title":null,"orient":"top","values":[12,32,52,74],"labels":false,"ticks":false,"domain":false,"grid":true,"gridColor":"#999999","gridDash":[1,2]}},"x2":{"field":"i2"},"y":{"field":"top","type":"quantitative","scale":{"domain":[-1.08,10.85],"nice":false,"zero":false},"axis":{"title":null,"orient":"right","values":[0,5],"labelAlign":"right","labelPadding":52,"labelFontSize":12.5,"labelColor":"#000000","tickSize":5,"tickColor":"#444444","domainColor":"#000000","domainWidth":1.5,"grid":true,"gridColor":"#999999","gridDash":[1,2],"labelOverlap":false,"labelBound":false}},"y2":{"datum":-0.2}}},
{"data":{"values":[{"a":0,"b":86,"v":5}]},"mark":{"type":"rule","color":"#000000","strokeWidth":2.5},"encoding":{"x":{"field":"a","type":"quantitative","axis":null},"x2":{"field":"b"},"y":{"field":"v","type":"quantitative","axis":null}}},
{"data":{"name":"safety"},"mark":{"type":"line","color":"#0000ff","strokeWidth":2,"interpolate":"step"},"encoding":{"x":{"field":"i","type":"quantitative","axis":null},"y":{"field":"v","type":"quantitative","axis":null}}},
{"data":{"values":[{"i1":-0.14,"i2":16.7,"p1":10.85,"p2":7.96}]},"mark":{"type":"rect","color":"#ffffff"},"encoding":{"x":{"field":"i1","type":"quantitative","axis":null},"x2":{"field":"i2"},"y":{"field":"p1","type":"quantitative","axis":null},"y2":{"field":"p2"}}},
{"data":{"values":[{"i":-0.14,"v":8.48,"t":"BNA - ","c":"k"},{"i":3.58,"v":8.48,"t":"Muc do an toan","c":"b"},{"i":13.1,"v":8.48,"t":"= 7.00","c":"k"}]},"mark":{"type":"text","align":"left","baseline":"alphabetic","fontSize":12.25},"encoding":{"x":{"field":"i","type":"quantitative","axis":null},"y":{"field":"v","type":"quantitative","axis":null},"text":{"field":"t"},"color":{"field":"c","type":"nominal","legend":null,"scale":{"domain":["k","b"],"range":["#000000","#0000ff"]}}}},
{"data":{"values":[{"a":-0.8,"b":103.8,"v":10.85}]},"mark":{"type":"rule","color":"#000000","strokeWidth":2},"encoding":{"x":{"field":"a","type":"quantitative","axis":null},"x2":{"field":"b"},"y":{"field":"v","type":"quantitative","axis":null}}},
{"data":{"name":"safetyTags"},"mark":"rect","encoding":{"x":{"field":"i1","type":"quantitative","axis":null},"x2":{"field":"i2"},"y":{"field":"p1","type":"quantitative","axis":null},"y2":{"field":"p2"},"color":{"field":"kind","type":"nominal","legend":null,"scale":{"domain":["now","ma"],"range":["#0000ff","#ff00ff"]}}}},
{"data":{"name":"safetyTags"},"transform":[{"filter":"datum.tip==1"}],"mark":{"type":"point","filled":true,"opacity":1,"size":196,"color":"#0000ff","shape":"M0 -1 L-1 0 L0 1 Z"},"encoding":{"x":{"field":"i1","type":"quantitative","axis":null},"y":{"field":"pm","type":"quantitative","axis":null}}},
{"data":{"name":"safetyTags"},"mark":{"type":"text","align":"left","baseline":"middle","fontSize":12.5},"encoding":{"x":{"datum":98.3,"type":"quantitative","axis":null},"y":{"field":"pm","type":"quantitative","axis":null},"text":{"field":"label"},"color":{"condition":{"test":"datum.kind=='now'","value":"#ffffff"},"value":"#111111"}}}
],"resolve":{"scale":{"color":"independent"},"axis":{"x":"independent","y":"independent"}}}
]}
